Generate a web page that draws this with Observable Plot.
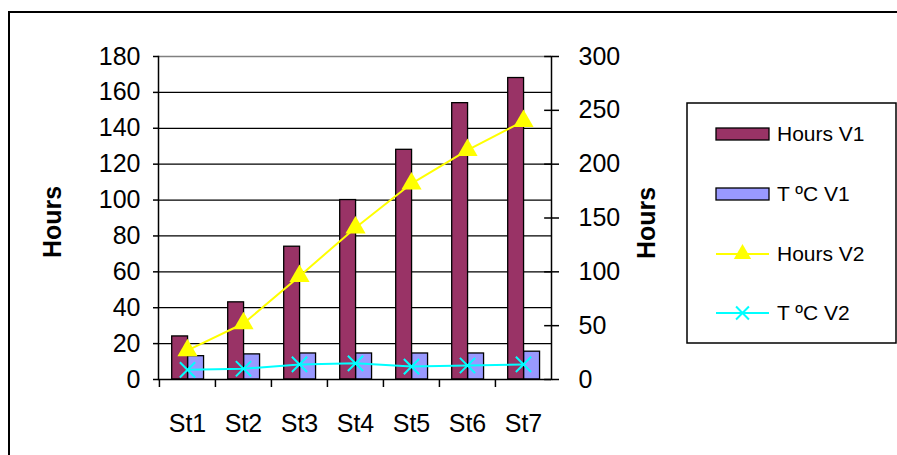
<!DOCTYPE html>
<html>
<head>
<meta charset="utf-8">
<script src="https://cdn.jsdelivr.net/npm/d3@7"></script>
<script src="https://cdn.jsdelivr.net/npm/@observablehq/plot@0.6"></script>
<style>
  html, body { margin: 0; padding: 0; background: white; }
  #chart { width: 897px; height: 455px; overflow: hidden; }
  #chart svg text { font-family: 'Liberation Sans', Arial, sans-serif; }
</style>
</head>
<body>
<div id="chart"></div>
<script>
const categories = ["St1", "St2", "St3", "St4", "St5", "St6", "St7"];
const hoursV1 = [24, 43, 74, 100, 128, 154, 168];
const tempV1 = [13, 14, 14.5, 14.5, 14.5, 14.5, 15.5];
const hoursV2 = [27, 52, 96, 141, 182, 213, 240];
const tempV2 = [9, 10, 14, 15, 12, 13, 14];
const leftTicks = [0, 20, 40, 60, 80, 100, 120, 140, 160, 180];
const rightTicks = [0, 50, 100, 150, 200, 250, 300];
const seriesNames = ["Hours V1", "T ºC V1", "Hours V2", "T ºC V2"];
const axisTitle = "Hours";

const rows = categories.map((c, i) => ({cat: c, hoursV1: hoursV1[i], tempV1: tempV1[i], hoursV2: hoursV2[i], tempV2: tempV2[i]}));

const W = 897, H = 455;
const mL = 158, mR = 346, mT = 56, mB = 76;
const bw = (W - mL - mR) / categories.length;
const r = 180 / 300; // right axis -> left axis units
const FS = 25;

const colors = {h1: "#993366", t1: "#9999FF", h2: "#FFFF00", t2: "#00FFFF"};

const chart = Plot.plot({
  width: W, height: H,
  marginLeft: mL, marginRight: mR, marginTop: mT, marginBottom: mB,
  style: {fontFamily: "Liberation Sans, Arial, sans-serif", fontSize: FS + "px", background: "white", color: "black"},
  x: {domain: categories, padding: 0, axis: null},
  y: {domain: [0, 180], axis: null},
  marks: [
    Plot.gridY(leftTicks.filter(v => v > 0 && v < 180), {stroke: "black", strokeOpacity: 1, strokeWidth: 1.3}),
    Plot.ruleY([180], {stroke: "#808080", strokeWidth: 1.5}),
    Plot.barY(rows, {x: "cat", y: "hoursV1", fill: colors.h1, stroke: "black", strokeWidth: 1.3, insetLeft: 12.7, insetRight: bw - 28.7}),
    Plot.barY(rows, {x: "cat", y: "tempV1", fill: colors.t1, stroke: "black", strokeWidth: 1.3, insetLeft: 28.7, insetRight: bw - 44.7}),
    Plot.ruleY([0], {stroke: "black", strokeWidth: 1.5}),
    Plot.frame({anchor: "left", stroke: "black", strokeWidth: 1.5}),
    Plot.frame({anchor: "right", stroke: "black", strokeWidth: 1.5}),
    Plot.axisY(leftTicks, {anchor: "left", tickSize: 5, tickPadding: 13, label: null, fontSize: FS, strokeWidth: 1.5}),
    Plot.axisY(rightTicks.map(v => v * r), {anchor: "right", tickSize: 7, tickPadding: 20, label: null, fontSize: FS, strokeWidth: 1.5, tickFormat: d => String(Math.round(d / r))}),
    Plot.tickY(rightTicks.map(v => v * r), {y: d => d, x: () => categories[categories.length - 1], insetLeft: bw - 7, stroke: "black", strokeWidth: 1.5}),
    Plot.axisX(categories, {anchor: "bottom", tickSize: 8, dx: -bw / 2, tickFormat: () => "", label: null, strokeWidth: 1.5}),
    Plot.axisX(categories, {anchor: "bottom", tickSize: 0, tickPadding: 35, label: null, fontSize: FS}),
    Plot.line(rows, {x: "cat", y: d => d.hoursV2 * r, stroke: colors.h2, strokeWidth: 2}),
    Plot.dot(rows, {x: "cat", y: d => d.hoursV2 * r, symbol: "triangle", r: 7.5, fill: colors.h2, stroke: "none"}),
    Plot.line(rows, {x: "cat", y: d => d.tempV2 * r, stroke: colors.t2, strokeWidth: 2}),
    Plot.dot(rows, {x: "cat", y: d => d.tempV2 * r, symbol: "times", r: 7, stroke: colors.t2, strokeWidth: 2, fill: "none"}),
    Plot.text([axisTitle], {frameAnchor: "left", textAnchor: "middle", lineAnchor: "middle", dx: -106, dy: 4, rotate: -90, fontWeight: "bold", fontSize: FS}),
    Plot.text([axisTitle], {frameAnchor: "right", textAnchor: "middle", lineAnchor: "middle", dx: 95.5, dy: 5, rotate: -90, fontWeight: "bold", fontSize: FS})
  ]
});

const svg = d3.select(chart);
// outer chart border (top + left visible)
svg.append("path").attr("d", `M9,${H} V12 H${W}`).attr("fill", "none").attr("stroke", "black").attr("stroke-width", 2);

// legend
const lg = svg.append("g").attr("text-anchor", "start");
lg.append("rect").attr("x", 687).attr("y", 103).attr("width", 209).attr("height", 240)
  .attr("fill", "white").attr("stroke", "black").attr("stroke-width", 1.5);
const rowsY = [134, 194, 254, 313];
const kinds = [
  {type: "bar", fill: colors.h1},
  {type: "bar", fill: colors.t1},
  {type: "line", stroke: colors.h2, symbol: d3.symbolTriangle},
  {type: "line", stroke: colors.t2, symbol: d3.symbolTimes}
];
seriesNames.forEach((name, i) => {
  const y = rowsY[i], k = kinds[i];
  if (k.type === "bar") {
    lg.append("rect").attr("x", 716).attr("y", y - 6).attr("width", 53).attr("height", 12)
      .attr("fill", k.fill).attr("stroke", "black").attr("stroke-width", 1.3);
  } else {
    lg.append("line").attr("x1", 716).attr("x2", 769).attr("y1", y).attr("y2", y)
      .attr("stroke", k.stroke).attr("stroke-width", 2);
    const sym = lg.append("path").attr("transform", `translate(742.5,${y})`)
      .attr("d", d3.symbol(k.symbol, k.symbol === d3.symbolTriangle ? 130 : 110)());
    if (k.symbol === d3.symbolTriangle) sym.attr("fill", k.stroke);
    else sym.attr("fill", "none").attr("stroke", k.stroke).attr("stroke-width", 2);
  }
  lg.append("text").attr("x", 777).attr("y", y).attr("dy", "0.35em").attr("text-anchor", "start")
    .attr("font-size", 21).attr("fill", "black").text(name);
});

document.getElementById("chart").appendChild(chart);
</script>
</body>
</html>
